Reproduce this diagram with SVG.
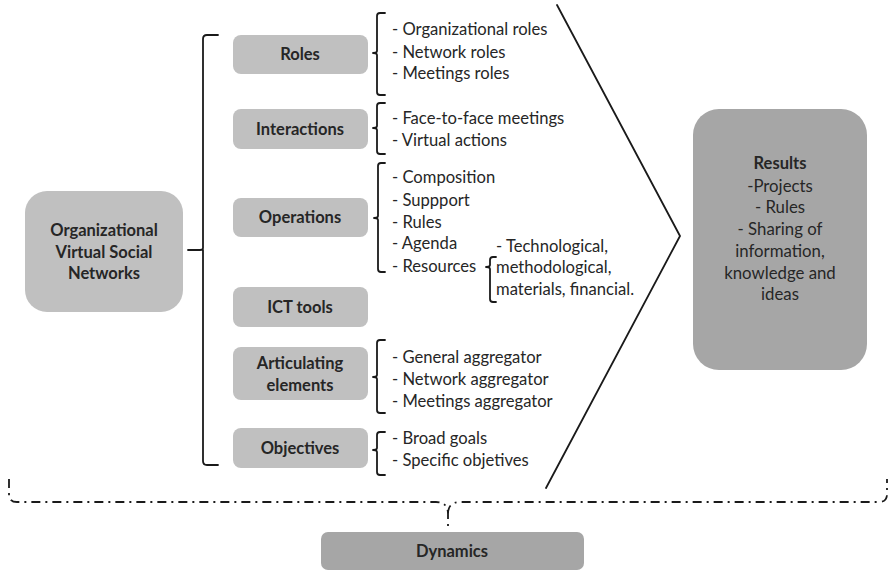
<svg xmlns="http://www.w3.org/2000/svg" width="889" height="571" viewBox="0 0 889 571">
  <style>
    .box { fill: #c0c0c0; }
    .dark { fill: #a6a6a6; }
    .lbl { font-family: Lato, "Liberation Sans", sans-serif; font-size: 16.5px; font-weight: bold; fill: #262626; text-anchor: middle; }
    .item { font-family: Lato, "Liberation Sans", sans-serif; font-size: 16.6px; fill: #262626; }
    .res { font-family: Lato, "Liberation Sans", sans-serif; font-size: 16.8px; fill: #262626; text-anchor: middle; }
    .brk { fill: none; stroke: #1a1a1a; stroke-width: 1.8; stroke-linejoin: round; stroke-linecap: round; }
    .dash { fill: none; stroke: #1a1a1a; stroke-width: 1.8; stroke-dasharray: 9 5 2 5; }
  </style>
  <rect width="889" height="571" fill="#ffffff"/>

  <!-- main node -->
  <g id="ovsn">
    <rect class="box" x="25" y="191" width="158" height="121" rx="22"/>
    <text class="lbl" x="104" y="236">Organizational</text>
    <text class="lbl" x="104" y="258">Virtual Social</text>
    <text class="lbl" x="104" y="279">Networks</text>
  </g>

  <!-- dimension nodes -->
  <g id="roles">
    <rect class="box" x="233" y="35" width="135" height="39" rx="8"/>
    <text class="lbl" x="300" y="60">Roles</text>
  </g>
  <g id="interactions">
    <rect class="box" x="233" y="109" width="135" height="40" rx="8"/>
    <text class="lbl" x="300" y="135">Interactions</text>
  </g>
  <g id="operations">
    <rect class="box" x="233" y="198" width="135" height="39" rx="8"/>
    <text class="lbl" x="300" y="223">Operations</text>
  </g>
  <g id="ict">
    <rect class="box" x="233" y="287" width="135" height="40" rx="8"/>
    <text class="lbl" x="300" y="313">ICT tools</text>
  </g>
  <g id="articulating">
    <rect class="box" x="233" y="347" width="135" height="53" rx="8"/>
    <text class="lbl" x="300" y="369">Articulating</text>
    <text class="lbl" x="300" y="391">elements</text>
  </g>
  <g id="objectives">
    <rect class="box" x="233" y="428" width="135" height="40" rx="8"/>
    <text class="lbl" x="300" y="454">Objectives</text>
  </g>

  <!-- item lists -->
  <g id="roles-items">
    <text class="item" x="392" y="35">- Organizational roles</text>
    <text class="item" x="392" y="58">- Network roles</text>
    <text class="item" x="392" y="79">- Meetings  roles</text>
  </g>
  <g id="interactions-items">
    <text class="item" x="392" y="124">- Face-to-face meetings</text>
    <text class="item" x="392" y="146">- Virtual actions</text>
  </g>
  <g id="operations-items">
    <text class="item" x="392" y="183">- Composition</text>
    <text class="item" x="392" y="206">- Suppport</text>
    <text class="item" x="392" y="228">- Rules</text>
    <text class="item" x="392" y="249">- Agenda</text>
    <text class="item" x="392" y="272">- Resources</text>
  </g>
  <g id="resources-items">
    <text class="item" x="496" y="252">- Technological,</text>
    <text class="item" x="496" y="273">methodological,</text>
    <text class="item" x="496" y="295">materials, financial.</text>
  </g>
  <g id="articulating-items">
    <text class="item" x="392" y="363">- General aggregator</text>
    <text class="item" x="392" y="385">- Network aggregator</text>
    <text class="item" x="392" y="407">- Meetings  aggregator</text>
  </g>
  <g id="objectives-items">
    <text class="item" x="392" y="444">- Broad goals</text>
    <text class="item" x="392" y="466">- Specific objetives</text>
  </g>

  <!-- results node -->
  <g id="results">
    <rect class="dark" x="693" y="109" width="174" height="261" rx="26"/>
    <text class="lbl" x="780" y="169">Results</text>
    <text class="res" x="780" y="192">-Projects</text>
    <text class="res" x="780" y="213">- Rules</text>
    <text class="res" x="780" y="235">- Sharing of</text>
    <text class="res" x="780" y="257">information,</text>
    <text class="res" x="780" y="279">knowledge and</text>
    <text class="res" x="780" y="300">ideas</text>
  </g>

  <!-- dynamics node -->
  <g id="dynamics">
    <rect class="dark" x="321" y="532" width="263" height="38" rx="7"/>
    <text class="lbl" x="452" y="557">Dynamics</text>
  </g>

  <!-- connectors: brackets, chevron, dynamics brace -->
  <g id="connectors">
    <path class="brk" d="M218,35 H207 Q203,35 203,39 V248 Q203,250 200,250 H188 M203,250 V461 Q203,465 207,465 H218"/>
    <path class="brk" d="M385,13 H380 Q377,13 377,16 V51 Q377,53 373,53 Q377,53 377,55 V92 Q377,95 380,95 H385"/>
    <path class="brk" d="M385,103 H380 Q377,103 377,106 V126 Q377,128 373,128 Q377,128 377,130 V151 Q377,154 380,154 H385"/>
    <path class="brk" d="M385,163 H381 Q378,163 378,166 V216 Q378,218 374,218 Q378,218 378,220 V269 Q378,272 381,272 H385"/>
    <path class="brk" d="M496,257 H493 Q490,257 490,260 V265 Q490,267 486,267 Q490,267 490,269 V299 Q490,302 493,302 H496"/>
    <path class="brk" d="M385,340 H380 Q377,340 377,343 V375 Q377,377 373,377 Q377,377 377,379 V410 Q377,413 380,413 H385"/>
    <path class="brk" d="M385,432 H380 Q377,432 377,435 V448 Q377,450 373,450 Q377,450 377,452 V472 Q377,475 380,475 H385"/>
    <polyline class="brk" points="557,5 680,236 546,488"/>
    <path class="dash" d="M9,479 V494 Q9,502 17,502 H436 Q448,502 448,514 V526 M448,514 Q448,502 460,502 H879 Q887,502 887,494 V479"/>
  </g>
</svg>
